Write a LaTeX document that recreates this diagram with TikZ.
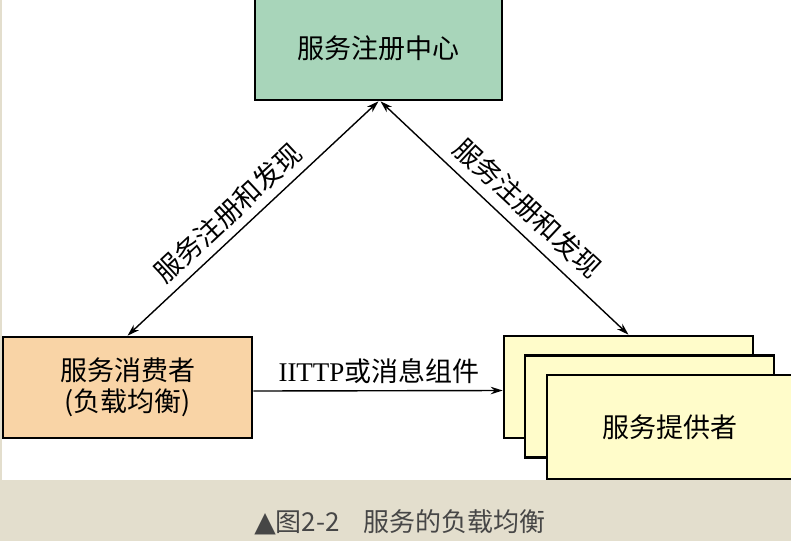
\documentclass[tikz,border=0pt]{standalone}
\usepackage{fontspec}
\setmainfont{Noto Sans CJK SC}
\newfontfamily\latfont{Liberation Serif}
\newfontfamily\symfont{DejaVu Sans}
\usetikzlibrary{arrows.meta}
\definecolor{regfill}{RGB}{168,213,186}
\definecolor{consfill}{RGB}{249,212,166}
\definecolor{provfill}{RGB}{255,252,202}
\definecolor{capbg}{RGB}{227,222,205}
\definecolor{captxt}{RGB}{70,70,70}
\tikzset{
  boxnode/.style={draw=black, line width=2.6pt, minimum width=249pt, inner sep=0pt, align=center, font=\fontsize{27}{31}\selectfont},
  conn/.style={line width=1.4pt, {Stealth[length=12pt,width=7.5pt]}-{Stealth[length=12pt,width=7.5pt]}},
  oneway/.style={line width=1.4pt, -{Stealth[length=12pt,width=7.5pt]}},
  lbl/.style={font=\fontsize{27}{30}\selectfont, inner sep=0pt}
}
\begin{document}
\begin{tikzpicture}[x=1pt,y=-1pt]
\useasboundingbox (0,0) rectangle (791,541);
\clip (0,0) rectangle (791,541);
\fill[white] (0,0) rectangle (791,480);
\fill[capbg] (0,480) rectangle (791,541);
\fill[capbg] (0,0) rectangle (1.5,480);
% boxes
\node[boxnode, fill=regfill, minimum width=247pt, minimum height=104pt] (reg) at (378.5,48) {服务注册中心};
\node[boxnode, fill=consfill, minimum height=101pt] (cons) at (127.5,387.5) {服务消费者\\(负载均衡)};
\node[boxnode, fill=provfill, minimum height=102pt] (p1) at (628.5,387) {};
\node[boxnode, fill=provfill, minimum height=102pt] (p2) at (649.5,406.5) {};
\node[boxnode, fill=provfill, minimum height=104pt] (p3) at (671.5,427) {\hspace*{-3pt}服务提供者};
% connectors
\draw[conn] (cons.north) -- (reg.south);
\draw[conn] ([xshift=2pt]reg.south) -- (p1.north);
\draw[oneway] ([yshift=-3.5pt]cons.east) -- ([yshift=-3.5pt]p1.west);
% labels
\node[lbl, rotate=43] (l1) at (228,213) {服务注册和发现};
\node[lbl, rotate=-43] (l2) at (528,208) {服务注册和发现};
\node[lbl] (l3) at (379,371) {{\latfont IITTP}或消息组件};
% caption
\node[font=\fontsize{26}{28}\selectfont, text=captxt, inner sep=0pt] (cap) at (400,522) {{\symfont\fontsize{28}{28}\selectfont ▲}图2-2\hspace{24pt}服务的负载均衡};
\end{tikzpicture}
\end{document}
